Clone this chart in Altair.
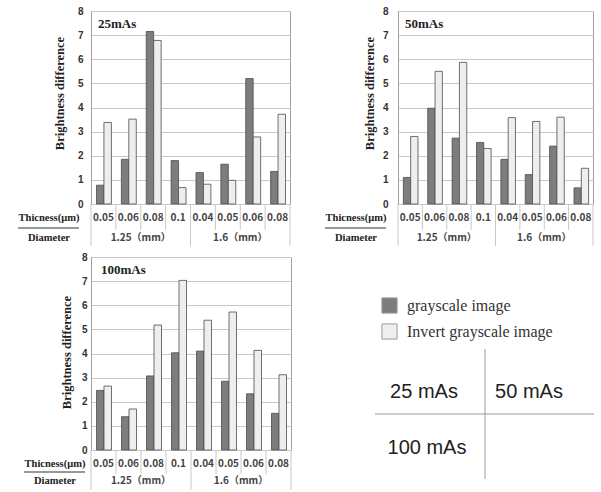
import altair as alt
import pandas as pd

# Category labels shared by the three exposure panels
thickness = ["0.05", "0.06", "0.08", "0.1", "0.04", "0.05", "0.06", "0.08"]
diameters = ["1.25（mm）", "1.6（mm）"]
series = ["grayscale image", "Invert grayscale image"]
key_labels = ["25 mAs", "50 mAs", "100 mAs"]

# Brightness difference per exposure setting
gray_25 = [0.78, 1.85, 7.15, 1.80, 1.30, 1.65, 5.20, 1.35]
inv_25 = [3.38, 3.52, 6.78, 0.68, 0.82, 0.98, 2.78, 3.72]
gray_50 = [1.10, 3.97, 2.73, 2.55, 1.85, 1.22, 2.40, 0.67]
inv_50 = [2.80, 5.50, 5.87, 2.30, 3.58, 3.42, 3.60, 1.48]
gray_100 = [2.47, 1.38, 3.07, 4.03, 4.10, 2.85, 2.33, 1.52]
inv_100 = [2.65, 1.70, 5.18, 7.03, 5.38, 5.72, 4.13, 3.12]

SERIF = "Liberation Serif"
SANS = "Liberation Sans"
CJK = "Noto Sans CJK JP"
H = 193
GRID = "#c8c8c8"
FRAME = "#a0a0a0"


def panel(title, gray, inv, width, label_pad, title_x, title_y, side_x, head_x,
          row1=14, line_y=24, row2=34, inner_end=26, outer_end=42):
    rows = []
    for i, (g, v) in enumerate(zip(gray, inv)):
        rows.append(dict(x0=i + 0.22, x1=i + 0.52, value=g, series=series[0]))
        rows.append(dict(x0=i + 0.52, x1=i + 0.82, value=v, series=series[1]))
    df = pd.DataFrame(rows)

    xs = alt.Scale(domain=[0, 8], nice=False, zero=False)
    ys = alt.Scale(domain=[0, 8], nice=False)

    bars = alt.Chart(df).mark_bar(stroke="#4d4d4d", strokeWidth=0.8).encode(
        x=alt.X("x0:Q", scale=xs, axis=None),
        x2="x1:Q",
        y=alt.Y(
            "value:Q",
            scale=ys,
            axis=alt.Axis(
                title="Brightness difference",
                values=list(range(9)),
                grid=True,
                gridColor=GRID,
                domainColor=FRAME,
                ticks=False,
                labelFont=SANS,
                labelFontWeight="bold",
                labelFontSize=10,
                labelColor="#333333",
                labelPadding=label_pad,
                titleFont=SERIF,
                titleFontSize=12.5,
                titleFontWeight="bold",
                titleColor="#222222",
                titleX=title_x,
                titleY=title_y,
                titleBaseline="middle",
                titleAlign="center",
            ),
        ),
        y2=alt.datum(0),
        color=alt.Color(
            "series:N",
            scale=alt.Scale(domain=series, range=["#7d7d7d", "#eeeeee"]),
            legend=alt.Legend(
                title=None,
                orient="none",
                legendX=290,
                legendY=286,
                symbolType="square",
                symbolSize=230,
                symbolStrokeColor="#9a9a9a",
                symbolStrokeWidth=1,
                labelFont=SERIF,
                labelFontSize=16,
                labelColor="#333333",
                labelOffset=9,
                rowPadding=5,
            ),
        ),
    )

    inner = pd.DataFrame({"b": [1, 2, 3, 5, 6, 7]})
    outer = pd.DataFrame({"b": [0, 4, 8]})
    cell_inner = alt.Chart(inner).mark_rule(color=GRID, strokeWidth=1).encode(
        x=alt.X("b:Q", scale=xs), y=alt.value(H), y2=alt.value(H + inner_end)
    )
    cell_outer = alt.Chart(outer).mark_rule(color=GRID, strokeWidth=1).encode(
        x=alt.X("b:Q", scale=xs), y=alt.value(H), y2=alt.value(H + outer_end)
    )

    thick_df = pd.DataFrame({"pos": [i + 0.5 for i in range(len(thickness))], "t": thickness})
    thick_txt = alt.Chart(thick_df).mark_text(
        font=CJK, fontSize=10, fontWeight="bold", color="#444444", baseline="middle"
    ).encode(x=alt.X("pos:Q", scale=xs), y=alt.value(H + row1), text="t:N")

    dia_df = pd.DataFrame({"pos": [2, 6], "t": diameters})
    dia_txt = alt.Chart(dia_df).mark_text(
        font=CJK, fontSize=10, fontWeight="bold", color="#444444", baseline="middle"
    ).encode(x=alt.X("pos:Q", scale=xs), y=alt.value(H + row2), text="t:N")

    side1 = alt.Chart(pd.DataFrame({"t": ["Thicness(μm)"]})).mark_text(
        font=SERIF, fontSize=10.5, fontWeight="bold", color="#222222", baseline="middle"
    ).encode(x=alt.value(side_x), y=alt.value(H + row1), text="t:N")
    side_line = alt.Chart(pd.DataFrame({"t": ["Thicness(μm)"]})).mark_rule(
        color="#333333", strokeWidth=1
    ).encode(x=alt.value(side_x - 31), x2=alt.value(side_x + 30), y=alt.value(H + line_y))
    side2 = alt.Chart(pd.DataFrame({"t": ["Diameter"]})).mark_text(
        font=SERIF, fontSize=10.5, fontWeight="bold", color="#222222", baseline="middle"
    ).encode(x=alt.value(side_x), y=alt.value(H + row2), text="t:N")

    head = alt.Chart(pd.DataFrame({"t": [title]})).mark_text(
        font=SERIF, fontSize=13, fontWeight="bold", color="#222222",
        align="left", baseline="middle"
    ).encode(x=alt.value(head_x), y=alt.value(13), text="t:N")

    layers = [bars, cell_inner, cell_outer, thick_txt, dia_txt, side1, side_line, side2, head]
    return layers, width


def key_layers():
    # 2x2 key of exposure settings drawn beside the last panel
    lines = alt.Chart(pd.DataFrame({"t": ["v"]}))
    v_rule = lines.mark_rule(color="#9a9a9a", strokeWidth=1).encode(
        x=alt.value(394), y=alt.value(92), y2=alt.value(222)
    )
    h_rule = lines.mark_rule(color="#9a9a9a", strokeWidth=1).encode(
        x=alt.value(284), x2=alt.value(503), y=alt.value(157)
    )
    pos = [(333, 135), (438, 135), (336, 191)]
    texts = []
    for lab, (px, py) in zip(key_labels, pos):
        texts.append(
            alt.Chart(pd.DataFrame({"t": [lab]})).mark_text(
                font=SANS, fontSize=20, color="#222222", baseline="middle"
            ).encode(x=alt.value(px), y=alt.value(py), text="t:N")
        )
    return [v_rule, h_rule] + texts


l1, w1 = panel("25mAs", gray_25, inv_25, 199, 8, -32, 82, -42, 7)
l2, w2 = panel("50mAs", gray_50, inv_50, 195, 10, -29, 82, -42, 7)
l3, w3 = panel("100mAs", gray_100, inv_100, 200, 4, -25, 95, -36, 10,
               row1=14, line_y=22, row2=31, inner_end=24, outer_end=40)

p1 = alt.layer(*l1).properties(width=w1, height=H)
p2 = alt.layer(*l2).properties(width=w2, height=H)
p3 = alt.layer(*(l3 + key_layers())).properties(width=w3, height=H)

chart = (
    alt.vconcat(alt.hconcat(p1, p2, spacing=33), alt.hconcat(p3), spacing=4)
    .properties(padding={"left": 17, "top": 5, "right": 0, "bottom": 0}, background="white")
    .configure_view(stroke=FRAME, strokeWidth=1)
)

chart.save("out.html", embed_options={"renderer": "svg", "actions": False})
